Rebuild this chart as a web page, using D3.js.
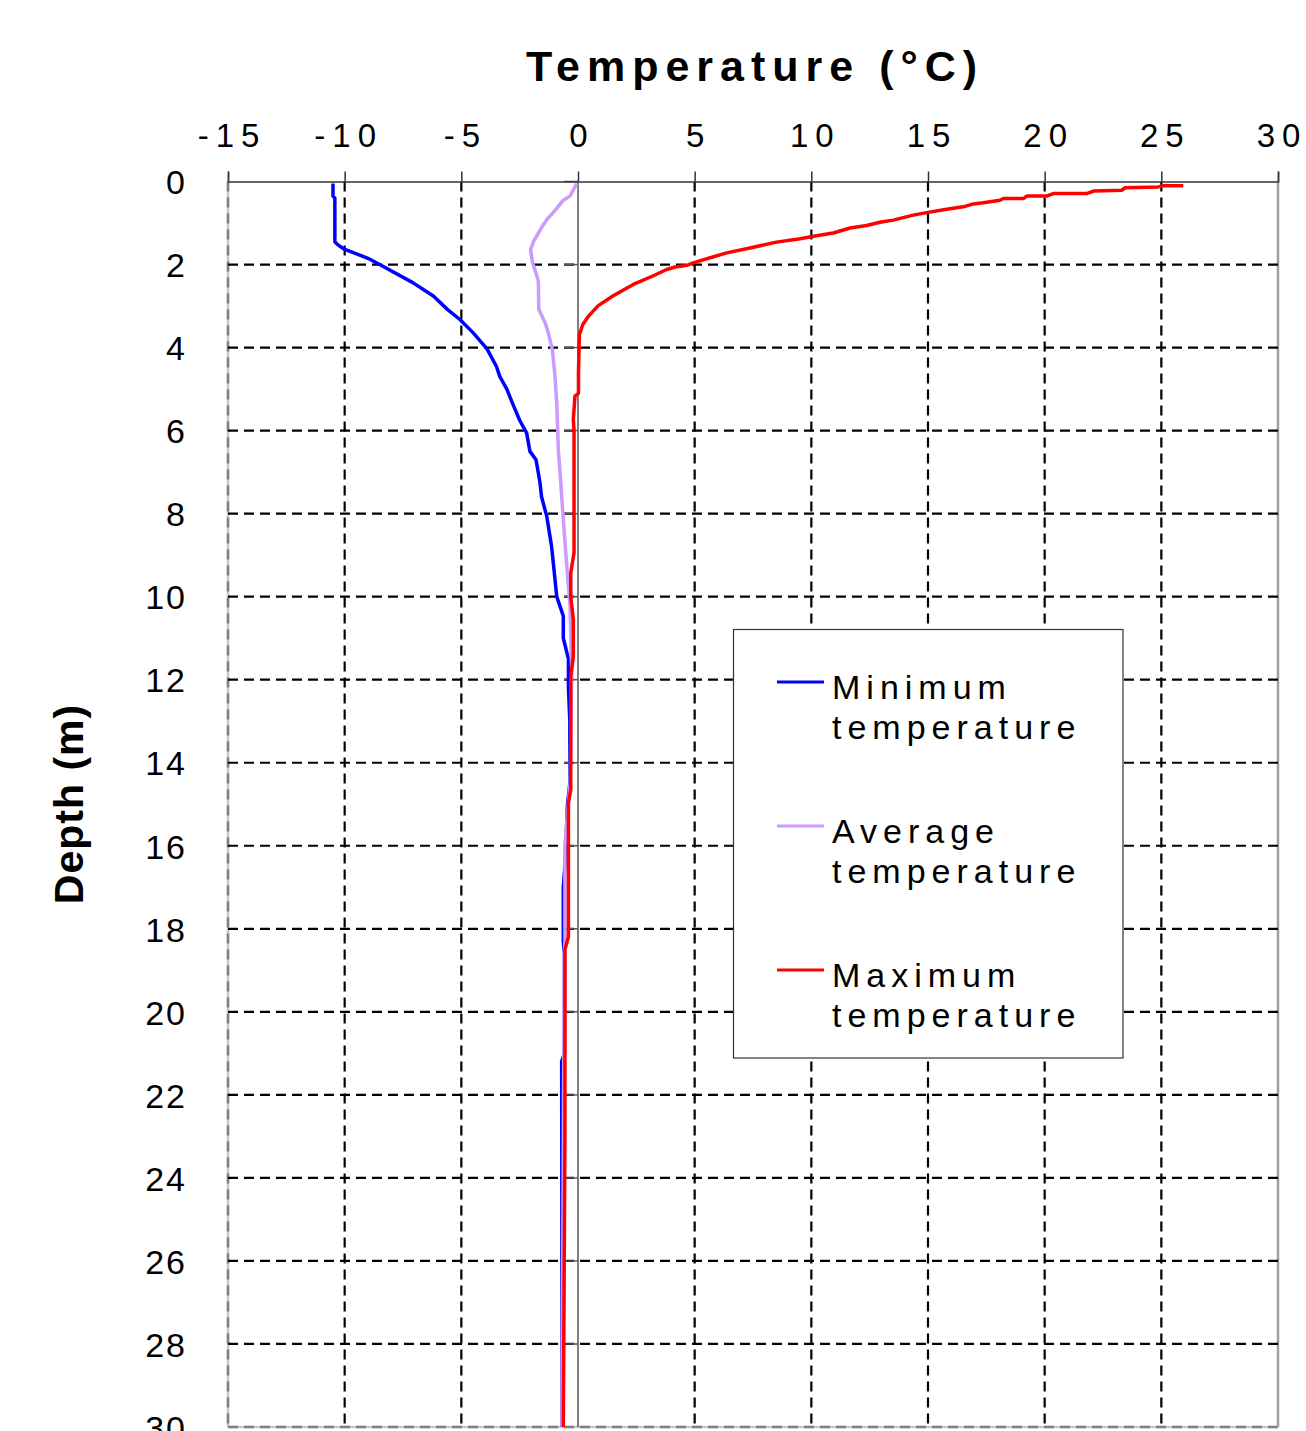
<!DOCTYPE html>
<html>
<head>
<meta charset="utf-8">
<script src="https://cdn.jsdelivr.net/npm/d3@7"></script>
<style>
  body { margin: 0; background: #fff; }
  svg { display: block; }
  text { font-family: "Liberation Sans", Arial, sans-serif; fill: #000; }
</style>
</head>
<body>
<svg id="chart" width="1306" height="1431"></svg>
<script>
// ---------- data ----------
const xTickValues = [-15, -10, -5, 0, 5, 10, 15, 20, 25, 30];
const xTickLabels = ["-15", "-10", "-5", "0", "5", "10", "15", "20", "25", "30"];
const yTickValues = [0, 2, 4, 6, 8, 10, 12, 14, 16, 18, 20, 22, 24, 26, 28, 30];
const yTickLabels = ["0", "2", "4", "6", "8", "10", "12", "14", "16", "18", "20", "22", "24", "26", "28", "30"];

const seriesNames = ["Minimum temperature", "Average temperature", "Maximum temperature"];
const seriesColors = ["#0000ff", "#cc99ff", "#ff0000"];

const minTemp  = [-10.50,-10.50,-10.42,-10.42,-10.30,-10.05,-9.0,-8.5,-7.1,-6.2,-5.6,-5.05,-4.5,-3.9,-3.5,-3.35,-3.05,-2.8,-2.5,-2.2,-2.06,-1.8,-1.63,-1.56,-1.34,-1.13,-0.91,-0.63,-0.63,-0.41,-0.41,-0.35,-0.35,-0.45,-0.55,-0.63,-0.63,-0.58,-0.58,-0.70,-0.68];
const minDepth = [0.05,0.35,0.40,1.45,1.52,1.62,1.85,2.0,2.43,2.76,3.08,3.33,3.64,4.03,4.45,4.7,5.0,5.35,5.75,6.06,6.5,6.7,7.25,7.6,8.06,8.8,10.0,10.47,11.0,11.5,12.2,13.0,14.5,15.0,16.4,17.0,18.3,18.6,21.0,21.2,30];

const avgTemp  = [-0.06,-0.34,-0.63,-0.99,-1.34,-1.55,-1.91,-2.03,-1.95,-1.75,-1.70,-1.68,-1.41,-1.27,-1.10,-1.00,-0.91,-0.84,-0.77,-0.63,-0.49,-0.34,-0.27,-0.30,-0.34,-0.45,-0.56,-0.56,-0.58,-0.62,-0.69];
const avgDepth = [0.05,0.35,0.45,0.70,0.92,1.10,1.45,1.64,1.95,2.30,2.40,3.08,3.40,3.65,4.05,4.60,5.33,6.50,7.00,8.14,9.19,10.23,11.76,13.0,14.5,15.2,16.0,18.3,18.6,22.0,30];

const maxTemp  = [25.94,25.10,24.87,23.45,23.30,22.09,21.80,20.37,20.09,19.23,19.09,18.23,18.09,17.37,16.94,16.51,15.80,14.94,14.37,13.94,13.51,12.94,12.37,11.66,10.94,10.09,9.52,8.51,7.37,6.37,5.52,4.94,4.66,4.16,3.80,3.23,2.37,1.51,0.87,0.44,0.20,0.06,0.02,0.02,-0.13,-0.20,-0.17,-0.17,-0.31,-0.31,-0.20,-0.20,-0.31,-0.31,-0.41,-0.41,-0.56,-0.56,-0.63];
const maxDepth = [0.10,0.10,0.13,0.15,0.21,0.23,0.29,0.29,0.35,0.35,0.41,0.41,0.45,0.51,0.54,0.61,0.67,0.75,0.81,0.87,0.93,0.98,1.06,1.12,1.24,1.32,1.38,1.46,1.60,1.72,1.86,1.96,2.02,2.06,2.12,2.27,2.48,2.75,2.99,3.25,3.45,3.69,4.60,5.10,5.17,5.73,6.00,8.94,9.43,10.0,10.55,11.44,11.92,14.65,14.97,18.19,18.50,23.0,30];

// ---------- layout ----------
const svg = d3.select("#chart");
const pLeft = 228, pRight = 1278, pTop = 181.5, pBottom = 1427;

const x = d3.scaleLinear().domain([-15, 30]).range([pLeft, pRight]);
const y = d3.scaleLinear().domain([0, 30]).range([pTop, pBottom]);

// borders (left, bottom gray dashed; right gray)
svg.append("line").attr("x1", pLeft).attr("x2", pLeft).attr("y1", pTop).attr("y2", pBottom)
  .attr("stroke", "#c8c8c8").attr("stroke-width", 2.5);
svg.append("line").attr("x1", pLeft).attr("x2", pLeft).attr("y1", pTop).attr("y2", pBottom)
  .attr("stroke", "#808080").attr("stroke-width", 2.5).attr("stroke-dasharray", "10,6");
svg.append("line").attr("x1", pLeft).attr("x2", pRight).attr("y1", pBottom).attr("y2", pBottom)
  .attr("stroke", "#c8c8c8").attr("stroke-width", 2.5);
svg.append("line").attr("x1", pLeft).attr("x2", pRight).attr("y1", pBottom).attr("y2", pBottom)
  .attr("stroke", "#808080").attr("stroke-width", 2.5).attr("stroke-dasharray", "10,6");
svg.append("line").attr("x1", pRight).attr("x2", pRight).attr("y1", pTop).attr("y2", pBottom)
  .attr("stroke", "#a0a0a0").attr("stroke-width", 2.5);

// grid lines
const grid = svg.append("g");
grid.selectAll("line.v").data(xTickValues.filter(v => v !== 0 && v !== -15 && v !== 30)).join("line")
  .attr("class", "v")
  .attr("x1", d => x(d)).attr("x2", d => x(d)).attr("y1", pTop).attr("y2", pBottom)
  .attr("stroke", "#000").attr("stroke-width", 2.2).attr("stroke-dasharray", "10,6");
grid.selectAll("line.h").data(yTickValues.filter(v => v !== 0 && v !== 30)).join("line")
  .attr("class", "h")
  .attr("x1", pLeft).attr("x2", pRight).attr("y1", d => y(d)).attr("y2", d => y(d))
  .attr("stroke", "#000").attr("stroke-width", 2.2).attr("stroke-dasharray", "10,6");

// zero axis line with small ticks
svg.append("line").attr("x1", x(0)).attr("x2", x(0)).attr("y1", pTop).attr("y2", pBottom)
  .attr("stroke", "#555").attr("stroke-width", 1.5);
svg.append("g").selectAll("line").data(yTickValues.filter(v => v !== 30)).join("line")
  .attr("x1", x(0) - 14).attr("x2", x(0)).attr("y1", d => y(d)).attr("y2", d => y(d))
  .attr("stroke", "#555").attr("stroke-width", 1.5);

// top axis
const xAxis = d3.axisTop(x).tickValues(xTickValues)
  .tickFormat((d, i) => xTickLabels[i]).tickSize(10).tickPadding(25);
const gx = svg.append("g").attr("transform", `translate(0,${pTop})`).call(xAxis);
gx.select(".domain").attr("stroke", "#333").attr("stroke-width", 1.5);
gx.selectAll(".tick line").attr("stroke", "#333").attr("stroke-width", 1.5);
gx.selectAll(".tick text")
  .style("font-family", '"Liberation Sans", Arial, sans-serif')
  .style("font-size", "33px").style("letter-spacing", "7px")
  .attr("fill", "#000").attr("dx", "3.5");

// left axis labels
const yAxis = d3.axisLeft(y).tickValues(yTickValues)
  .tickFormat((d, i) => yTickLabels[i]).tickSize(0).tickPadding(41);
const gy = svg.append("g").attr("transform", `translate(${pLeft},0)`).call(yAxis);
gy.select(".domain").remove();
gy.selectAll(".tick text")
  .style("font-family", '"Liberation Sans", Arial, sans-serif')
  .style("font-size", "34px").style("letter-spacing", "2px")
  .attr("fill", "#000").attr("dy", "0.36em");

// series lines
const line = d3.line().x(d => x(d[0])).y(d => y(d[1]));
const seriesData = [
  d3.zip(minTemp, minDepth),
  d3.zip(avgTemp, avgDepth),
  d3.zip(maxTemp, maxDepth)
];
svg.append("g").selectAll("path").data(seriesData).join("path")
  .attr("d", line)
  .attr("fill", "none")
  .attr("stroke", (d, i) => seriesColors[i])
  .attr("stroke-width", 3.5)
  .attr("stroke-linejoin", "round");

// titles
svg.append("text").attr("x", (pLeft + pRight) / 2 + 2).attr("y", 80.5)
  .attr("text-anchor", "middle")
  .style("font-size", "43px").style("font-weight", "bold").style("letter-spacing", "7px")
  .text("Temperature (°C)");

svg.append("text").attr("transform", "translate(83,804) rotate(-90)")
  .attr("text-anchor", "middle")
  .style("font-size", "41px").style("font-weight", "bold").style("letter-spacing", "1px")
  .text("Depth (m)");

// legend
const lg = svg.append("g");
lg.append("rect").attr("x", 733.5).attr("y", 629.5).attr("width", 389.5).attr("height", 428.5)
  .attr("fill", "#fff").attr("stroke", "#333").attr("stroke-width", 1.2);
const legY = [682, 826, 970];
seriesNames.forEach((name, i) => {
  lg.append("line").attr("x1", 777).attr("x2", 824).attr("y1", legY[i]).attr("y2", legY[i])
    .attr("stroke", seriesColors[i]).attr("stroke-width", 3);
  const parts = name.split(" ");
  const t = lg.append("text").attr("x", 832).attr("y", legY[i] + 17)
    .style("font-size", "34px").style("letter-spacing", "6px");
  t.append("tspan").attr("x", 832).text(parts[0]);
  t.append("tspan").attr("x", 832).attr("dy", 39.5).text(parts[1]);
});
</script>
</body>
</html>
